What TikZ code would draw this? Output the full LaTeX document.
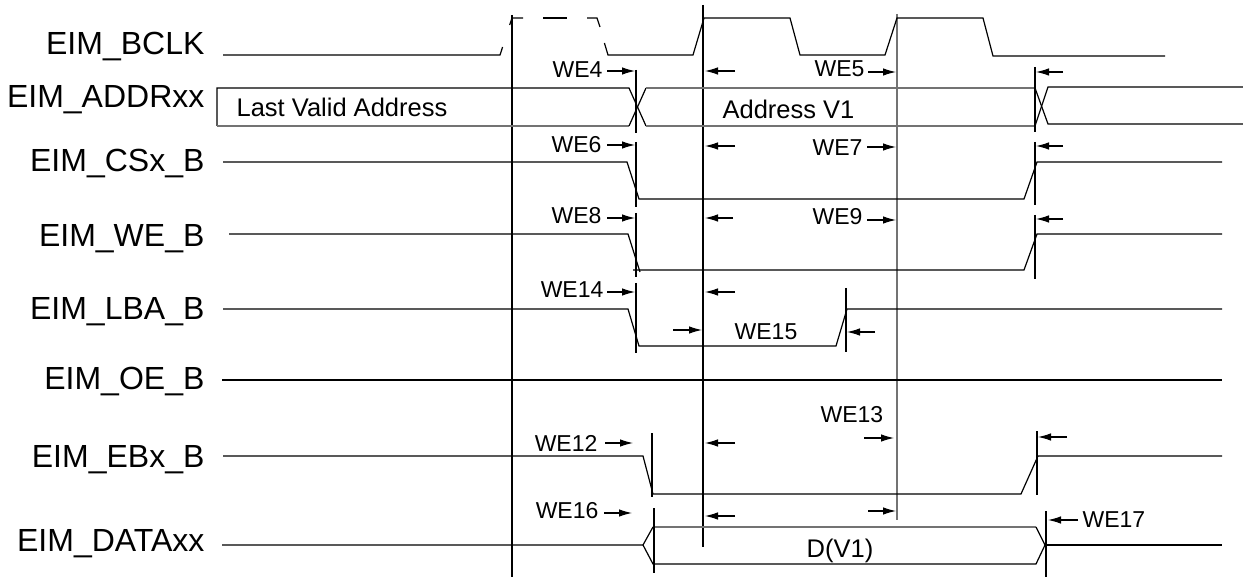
\documentclass[tikz,border=0pt]{standalone}
\usepackage{fontspec}
\setmainfont{Liberation Sans}
\usetikzlibrary{arrows.meta}
\begin{document}
\begin{tikzpicture}[x=1pt,y=-1pt, line width=1.2pt, line join=miter,
  graywire/.style={draw=black!55},
  tickline/.style={line width=1.2pt},
  dimarrow/.style={-{Latex[length=13pt,width=7.5pt]}, line width=1.1pt},
  siglabel/.style={font=\fontsize{32}{36}\selectfont, anchor=base east, inner sep=0pt},
  welabel/.style={font=\fontsize{23}{26}\selectfont, inner sep=0pt},
  buslabel/.style={font=\fontsize{25.5}{28}\selectfont, inner sep=0pt}]
\useasboundingbox (0,0) rectangle (1243,577);

% signal names
\node[siglabel] (lbclk) at (205,55) {EIM\_BCLK};
\node[siglabel] (laddr) at (205,108) {EIM\_ADDRxx};
\node[siglabel] (lcs) at (205,172) {EIM\_CSx\_B};
\node[siglabel] (lwe) at (205,247) {EIM\_WE\_B};
\node[siglabel] (llba) at (205,320) {EIM\_LBA\_B};
\node[siglabel] (loe) at (205,390) {EIM\_OE\_B};
\node[siglabel] (leb) at (205,467) {EIM\_EBx\_B};
\node[siglabel] (ldata) at (205,551) {EIM\_DATAxx};

% reference verticals
\draw[tickline] (512,15) -- (512,577);
\draw[tickline] (703,5) -- (703,547);
\draw[tickline, graywire] (897,14) -- (897,520);

% clock
\draw (223,55) -- (500,55) -- (502.6,47);
\draw (509.7,25) -- (512,18) -- (523,18);
\draw (543,18) -- (567,18);
\draw (587,18) -- (597,18) -- (600,27);
\draw (604.4,43) -- (608,55) -- (693,55) -- (704,18) -- (790,18) -- (800,55) -- (885,55) -- (897,18) -- (983,18) -- (993,56) -- (1165,56);

% address bus
\draw (217,126) -- (217,88) -- (629,88) -- (646,126);
\draw[graywire] (217,126) -- (629,126);
\draw (629,126) -- (646,88);
\draw[graywire] (646,88) -- (1035,88);
\draw[graywire] (646,126) -- (1035,126);
\draw (1035,88) -- (1048,124) -- (1243,124);
\draw (1035,126) -- (1048,87) -- (1243,87);
\node[buslabel, anchor=base west] (tlast) at (236,117) {Last Valid Address};
\node[buslabel, anchor=base west] (tav1) at (722,119) {Address V1};
\draw[tickline] (636,70) -- (636,133);
\draw[tickline] (1035,67) -- (1035,132);
\draw[dimarrow] (607,71) -- (635,71);
\draw[dimarrow] (735,71) -- (705,71);
\draw[dimarrow] (868,72) -- (896,72);
\draw[dimarrow] (1063,72) -- (1036,72);
\node[welabel, anchor=base east] (we4) at (603,78) {WE4};
\node[welabel, anchor=base east] (we5) at (865,77) {WE5};

% chip select
\draw (223,162) -- (627,162) -- (639,199) -- (1024,199) -- (1037,162) -- (1222,162);
\draw[tickline] (636,142) -- (636,207);
\draw[tickline] (1035,142) -- (1035,205);
\draw[dimarrow] (607,145) -- (635,145);
\draw[dimarrow] (735,146) -- (705,146);
\draw[dimarrow] (867,147) -- (896,147);
\draw[dimarrow] (1063,146) -- (1036,146);
\node[welabel, anchor=base east] (we6) at (602,153) {WE6};
\node[welabel, anchor=base east] (we7) at (863,156) {WE7};

% write enable
\draw (229,234) -- (628,234) -- (640,272);
\draw (633,270) -- (1024,270) -- (1037,234) -- (1222,234);
\draw[tickline] (636,213) -- (636,277);
\draw[tickline] (1035,215) -- (1035,279);
\draw[dimarrow] (607,218) -- (635,218);
\draw[dimarrow] (733,218) -- (705,218);
\draw[dimarrow] (867,220) -- (896,220);
\draw[dimarrow] (1063,219) -- (1036,219);
\node[welabel, anchor=base east] (we8) at (602,224) {WE8};
\node[welabel, anchor=base east] (we9) at (863,225) {WE9};

% LBA
\draw (223,309) -- (628,309) -- (639,346) -- (836,346) -- (847,309) -- (1222,309);
\draw[tickline] (636,283) -- (636,353);
\draw[tickline] (846,288) -- (846,352);
\draw[dimarrow] (607,292) -- (635,292);
\draw[dimarrow] (735,292) -- (705,292);
\draw[dimarrow] (673,330) -- (702,330);
\draw[dimarrow] (875,332) -- (847,332);
\node[welabel, anchor=base east] (we14) at (604,298) {WE14};
\node[welabel, anchor=base] (we15) at (766,340) {WE15};

% OE
\draw (222,380) -- (1222,380);

% EBx
\draw (223,456) -- (643,456) -- (653,494) -- (1021,494) -- (1038,456) -- (1222,456);
\draw[tickline] (652,433) -- (652,497);
\draw[tickline] (1037,431) -- (1037,495);
\draw[dimarrow] (605,443) -- (633,443);
\draw[dimarrow] (735,443) -- (705,443);
\draw[dimarrow] (864,438) -- (894,438);
\draw[dimarrow] (1067,437) -- (1038,437);
\node[welabel, anchor=base east] (we12) at (598,451) {WE12};
\node[welabel, anchor=base west] (we13) at (820,422) {WE13};

% data bus
\draw (222,545) -- (643,545) -- (653,527);
\draw[graywire] (653,527) -- (1036,527);
\draw (1036,527) -- (1045,545) -- (1036,564) -- (653,564) -- (643,545);
\draw (1045,545) -- (1222,545);
\node[buslabel, anchor=base] (tdv1) at (840,557) {D(V1)};
\draw[tickline] (654,508) -- (654,573);
\draw[tickline] (1046,511) -- (1046,577);
\draw[dimarrow] (604,513) -- (632,513);
\draw[dimarrow] (735,516) -- (705,516);
\draw[dimarrow] (868,511) -- (896,511);
\draw[dimarrow] (1078,520) -- (1048,520);
\node[welabel, anchor=base east] (we16) at (599,518) {WE16};
\node[welabel, anchor=base west] (we17) at (1082,527) {WE17};
\end{tikzpicture}
\end{document}
